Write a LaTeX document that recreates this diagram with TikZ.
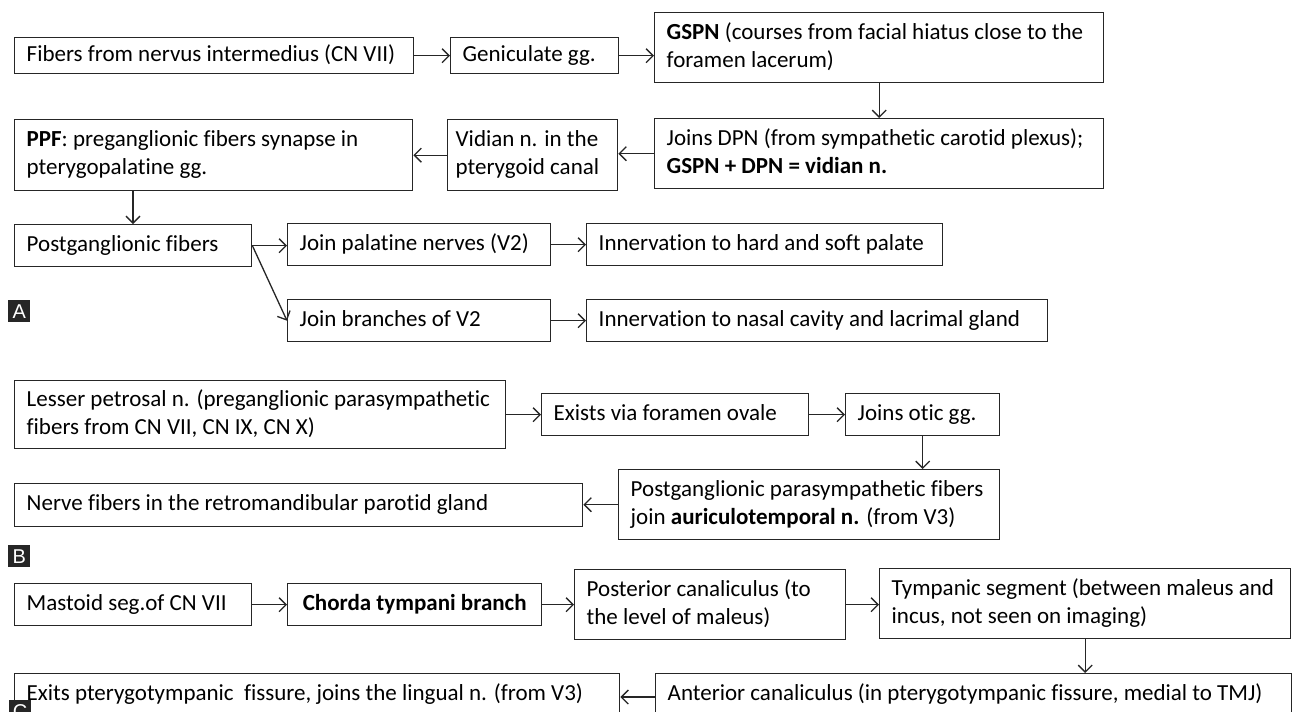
\documentclass[tikz,border=0pt]{standalone}
\usepackage{fontspec}
\setmainfont{Carlito}[Ligatures={NoCommon}]
\newfontfamily\labfont{Liberation Sans}
\usetikzlibrary{arrows.meta}
\begin{document}
\begin{tikzpicture}[x=1pt,y=-1pt,
  box/.style={draw=black!85, line width=1.4pt, rectangle, anchor=north west,
    inner xsep=12pt, inner ysep=0pt, align=flush left,
    execute at begin node=\strut, execute at end node=\strut,
    font=\fontsize{23}{28}\selectfont},
  arr/.style={draw=black!85, line width=1.3pt, -{Straight Barb[length=7pt,width=14pt,line width=1.3pt]}},
  tag/.style={fill=black!85, text=white, anchor=north west, inner sep=0pt,
    minimum width=22pt, minimum height=22pt, font=\labfont\fontsize{20}{20}\selectfont}]
\useasboundingbox (0,0) rectangle (1296,712);
\fill[white] (0,0) rectangle (1296,712);
% ---------- A ----------
\node[box, text width=375pt, minimum height=36pt] (n1) at (14,37) {Fibers from nervus intermedius (CN VII)};
\node[box, text width=144pt, minimum height=36pt] (n2) at (450,37) {Geniculate gg.};
\node[box, text width=425pt, minimum height=70pt] (n3) at (654,12) {\textbf{GSPN} (courses from facial hiatus close to the\\foramen lacerum)};
\node[box, text width=425pt, minimum height=70pt] (n4) at (654,118) {Joins DPN (from sympathetic carotid plexus);\\\textbf{GSPN + DPN = vidian n.}};
\node[box, inner xsep=8pt, text width=154pt, minimum height=71pt] (n5) at (447,119) {Vidian n. in the\\pterygoid canal};
\node[box, text width=374pt, minimum height=71pt] (n6) at (14,119) {\textbf{PPF}: preganglionic fibers synapse in\\pterygopalatine gg.};
\node[box, text width=213pt, minimum height=42pt] (n7) at (14,224) {Postganglionic fibers};
\node[box, text width=239pt, minimum height=42pt] (n8) at (287,223) {Join palatine nerves (V2)};
\node[box, text width=332pt, minimum height=42pt] (n9) at (586,223) {Innervation to hard and soft palate};
\node[box, text width=239pt, minimum height=42pt] (n10) at (287,299) {Join branches of V2};
\node[box, text width=437pt, minimum height=42pt] (n11) at (586,299) {Innervation to nasal cavity and lacrimal gland};
\node[tag] (tA) at (8,300) {A};
\draw[arr] (n1.east) -- (n2.west);
\draw[arr] (n2.east) -- (n2.east -| n3.west);
\draw[arr] (n3.south) -- (n4.north);
\draw[arr] (n4.west) -- (n4.west -| n5.east);
\draw[arr] (n5.west) -- (n5.west -| n6.east);
\draw[arr] ([xshift=119pt]n6.south west) -- ([xshift=119pt]n7.north west);
\draw[arr] (n7.east) -- (n7.east -| n8.west);
\draw[arr] (n7.east) -- (n10.west);
\draw[arr] (n8.east) -- (n9.west);
\draw[arr] (n10.east) -- (n11.west);
% ---------- B ----------
\node[box, text width=467pt, minimum height=68pt] (b1) at (14,380) {Lesser petrosal n. (preganglionic parasympathetic\\fibers from CN VII, CN IX, CN X)};
\node[box, text width=243pt, minimum height=42pt] (b2) at (541,393) {Exists via foramen ovale};
\node[box, text width=130pt, minimum height=42pt] (b3) at (845,393) {Joins otic gg.};
\node[box, text width=357pt, minimum height=70pt] (b4) at (618,469) {Postganglionic parasympathetic fibers\\join \textbf{auriculotemporal n.} (from V3)};
\node[box, text width=544pt, minimum height=43pt] (b5) at (14,483) {Nerve fibers in the retromandibular parotid gland};
\node[tag] (tB) at (8,545) {B};
\draw[arr] (b1.east) -- (b1.east -| b2.west);
\draw[arr] (b2.east) -- (b3.west);
\draw[arr] (b3.south) -- (b3.south |- b4.north);
\draw[arr] (b4.west) -- (b4.west -| b5.east);
% ---------- C ----------
\node[box, text width=213pt, minimum height=42pt] (c1) at (14,583) {Mastoid seg.of CN VII};
\node[box, text width=230pt, minimum height=42pt, align=flush center] (c2) at (287,583) {\textbf{Chorda tympani branch}};
\node[box, text width=247pt, minimum height=70pt] (c3) at (574,569) {Posterior canaliculus (to\\the level of maleus)};
\node[box, text width=387pt, minimum height=70pt] (c4) at (879,568) {Tympanic segment (between maleus and\\incus, not seen on imaging)};
\node[box, text width=612pt, minimum height=42pt] (c5) at (655,673) {Anterior canaliculus (in pterygotympanic fissure, medial to TMJ)};
\node[box, text width=581pt, minimum height=42pt] (c6) at (14,673) {Exits pterygotympanic\ \ fissure, joins the lingual n. (from V3)};
\node[tag] (tC) at (9,700) {C};
\draw[arr] (c1.east) -- (c2.west);
\draw[arr] (c2.east) -- (c2.east -| c3.west);
\draw[arr] (c3.east) -- (c3.east -| c4.west);
\draw[arr] (c4.south) -- (c4.south |- c5.north);
\draw[arr] ([yshift=-24pt]c5.north west) -- ([yshift=-24pt]c5.north west -| c6.east);
\end{tikzpicture}
\end{document}
